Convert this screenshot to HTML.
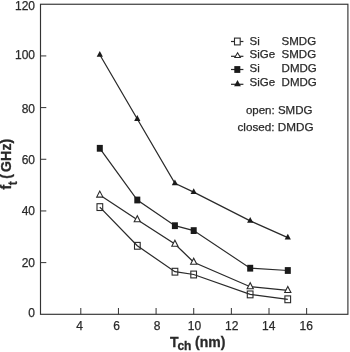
<!DOCTYPE html>
<html><head><meta charset="utf-8"><title>ft vs Tch</title>
<style>
html,body{margin:0;padding:0;background:#fff;}
svg{display:block;font-family:"Liberation Sans",sans-serif;}
</style></head><body>
<svg width="350" height="352" viewBox="0 0 350 352">
<rect width="350" height="352" fill="#fff"/>
<rect x="40.5" y="4.25" width="307.40" height="310.05" fill="none" stroke="#333" stroke-width="1.15"/>
<line x1="80.80" y1="314.3" x2="80.80" y2="308.0" stroke="#333" stroke-width="1"/>
<line x1="118.44" y1="314.3" x2="118.44" y2="308.0" stroke="#333" stroke-width="1"/>
<line x1="156.08" y1="314.3" x2="156.08" y2="308.0" stroke="#333" stroke-width="1"/>
<line x1="193.72" y1="314.3" x2="193.72" y2="308.0" stroke="#333" stroke-width="1"/>
<line x1="231.36" y1="314.3" x2="231.36" y2="308.0" stroke="#333" stroke-width="1"/>
<line x1="269.00" y1="314.3" x2="269.00" y2="308.0" stroke="#333" stroke-width="1"/>
<line x1="306.64" y1="314.3" x2="306.64" y2="308.0" stroke="#333" stroke-width="1"/>
<line x1="40.5" y1="262.62" x2="46.3" y2="262.62" stroke="#333" stroke-width="1"/>
<line x1="40.5" y1="210.95" x2="46.3" y2="210.95" stroke="#333" stroke-width="1"/>
<line x1="40.5" y1="159.28" x2="46.3" y2="159.28" stroke="#333" stroke-width="1"/>
<line x1="40.5" y1="107.60" x2="46.3" y2="107.60" stroke="#333" stroke-width="1"/>
<line x1="40.5" y1="55.93" x2="46.3" y2="55.93" stroke="#333" stroke-width="1"/>
<text x="79.5" y="330" font-size="12" text-anchor="middle" fill="#2a2a2a" stroke="#2a2a2a" stroke-width="0.25">4</text>
<text x="116.6" y="330" font-size="12" text-anchor="middle" fill="#2a2a2a" stroke="#2a2a2a" stroke-width="0.25">6</text>
<text x="157" y="330" font-size="12" text-anchor="middle" fill="#2a2a2a" stroke="#2a2a2a" stroke-width="0.25">8</text>
<text x="194.5" y="330" font-size="12" text-anchor="middle" fill="#2a2a2a" stroke="#2a2a2a" stroke-width="0.25">10</text>
<text x="231.8" y="330" font-size="12" text-anchor="middle" fill="#2a2a2a" stroke="#2a2a2a" stroke-width="0.25">12</text>
<text x="268.8" y="330" font-size="12" text-anchor="middle" fill="#2a2a2a" stroke="#2a2a2a" stroke-width="0.25">14</text>
<text x="306.2" y="330" font-size="12" text-anchor="middle" fill="#2a2a2a" stroke="#2a2a2a" stroke-width="0.25">16</text>
<text x="35" y="9.8" font-size="12" text-anchor="end" fill="#2a2a2a" stroke="#2a2a2a" stroke-width="0.25">120</text>
<text x="35" y="59.1" font-size="12" text-anchor="end" fill="#2a2a2a" stroke="#2a2a2a" stroke-width="0.25">100</text>
<text x="35" y="113.3" font-size="12" text-anchor="end" fill="#2a2a2a" stroke="#2a2a2a" stroke-width="0.25">80</text>
<text x="35" y="163.5" font-size="12" text-anchor="end" fill="#2a2a2a" stroke="#2a2a2a" stroke-width="0.25">60</text>
<text x="35" y="214.5" font-size="12" text-anchor="end" fill="#2a2a2a" stroke="#2a2a2a" stroke-width="0.25">40</text>
<text x="35" y="266.6" font-size="12" text-anchor="end" fill="#2a2a2a" stroke="#2a2a2a" stroke-width="0.25">20</text>
<text x="35" y="317.3" font-size="12" text-anchor="end" fill="#2a2a2a" stroke="#2a2a2a" stroke-width="0.25">0</text>
<text x="170.0" y="346.6" font-size="14" font-weight="bold" fill="#2a2a2a" stroke="#2a2a2a" stroke-width="0.3">T</text>
<text x="177.4" y="350.3" font-size="12" font-weight="bold" fill="#2a2a2a" stroke="#2a2a2a" stroke-width="0.3">ch</text>
<text x="195.0" y="346.6" font-size="14" font-weight="bold" fill="#2a2a2a" stroke="#2a2a2a" stroke-width="0.3">(nm)</text>
<g transform="translate(11.0,189.8) rotate(-90)" font-weight="bold" fill="#2a2a2a" stroke="#2a2a2a" stroke-width="0.3"><text x="0.2" y="0" font-size="14">f</text><text x="4.5" y="5.8" font-size="12">t</text><text x="11.1 17.9 28.7 39.2 46.3" y="0" font-size="14">(GHz)</text></g>
<polyline points="99.8,54.8 137.3,119.0 174.9,183.3 193.7,192.1 250.2,220.9 287.8,237.6" fill="none" stroke="#2a2a2a" stroke-width="1.25"/>
<polygon points="99.8,50.9 96.7,56.7 102.9,56.7" fill="#1a1a1a"/>
<polygon points="137.3,115.1 134.2,120.9 140.4,120.9" fill="#1a1a1a"/>
<polygon points="174.9,179.4 171.8,185.2 178.0,185.2" fill="#1a1a1a"/>
<polygon points="193.7,188.2 190.6,194.0 196.8,194.0" fill="#1a1a1a"/>
<polygon points="250.2,217.0 247.1,222.8 253.3,222.8" fill="#1a1a1a"/>
<polygon points="287.8,233.7 284.7,239.5 290.9,239.5" fill="#1a1a1a"/>
<polyline points="99.8,148.3 137.3,200.0 174.9,225.7 193.7,230.6 250.2,268.2 287.8,270.5" fill="none" stroke="#2a2a2a" stroke-width="1.25"/>
<rect x="96.8" y="144.9" width="6" height="6.8" fill="#1a1a1a"/>
<rect x="134.3" y="196.6" width="6" height="6.8" fill="#1a1a1a"/>
<rect x="171.9" y="222.3" width="6" height="6.8" fill="#1a1a1a"/>
<rect x="190.7" y="227.2" width="6" height="6.8" fill="#1a1a1a"/>
<rect x="247.2" y="264.8" width="6" height="6.8" fill="#1a1a1a"/>
<rect x="284.8" y="267.1" width="6" height="6.8" fill="#1a1a1a"/>
<polyline points="99.8,195.0 137.3,219.7 174.9,244.1 193.7,262.2 250.2,286.7 287.8,290.4" fill="none" stroke="#2a2a2a" stroke-width="1.25"/>
<polygon points="99.8,191.1 96.7,197.1 102.9,197.1" fill="#fff" stroke="#2a2a2a" stroke-width="1.1" stroke-linejoin="miter"/>
<polygon points="137.3,215.8 134.2,221.8 140.4,221.8" fill="#fff" stroke="#2a2a2a" stroke-width="1.1" stroke-linejoin="miter"/>
<polygon points="174.9,240.2 171.8,246.2 178.0,246.2" fill="#fff" stroke="#2a2a2a" stroke-width="1.1" stroke-linejoin="miter"/>
<polygon points="193.7,258.3 190.6,264.3 196.8,264.3" fill="#fff" stroke="#2a2a2a" stroke-width="1.1" stroke-linejoin="miter"/>
<polygon points="250.2,282.8 247.1,288.8 253.3,288.8" fill="#fff" stroke="#2a2a2a" stroke-width="1.1" stroke-linejoin="miter"/>
<polygon points="287.8,286.5 284.7,292.5 290.9,292.5" fill="#fff" stroke="#2a2a2a" stroke-width="1.1" stroke-linejoin="miter"/>
<rect x="97.0" y="203.7" width="5.7" height="6.8" fill="#fff" stroke="#2a2a2a" stroke-width="1.1"/>
<rect x="134.5" y="242.4" width="5.7" height="6.8" fill="#fff" stroke="#2a2a2a" stroke-width="1.1"/>
<rect x="172.1" y="268.3" width="5.7" height="6.8" fill="#fff" stroke="#2a2a2a" stroke-width="1.1"/>
<rect x="190.8" y="271.1" width="5.7" height="6.8" fill="#fff" stroke="#2a2a2a" stroke-width="1.1"/>
<rect x="247.3" y="291.0" width="5.7" height="6.8" fill="#fff" stroke="#2a2a2a" stroke-width="1.1"/>
<rect x="284.9" y="295.9" width="5.7" height="6.8" fill="#fff" stroke="#2a2a2a" stroke-width="1.1"/>
<polyline points="99.8,207.1 137.3,245.8 174.9,271.7 193.7,274.5 250.2,294.4 287.8,299.3" fill="none" stroke="#2a2a2a" stroke-width="1.25"/>
<line x1="231" y1="41.5" x2="243.4" y2="41.5" stroke="#2a2a2a" stroke-width="1.2"/>
<rect x="234.5" y="38.1" width="5.7" height="6.8" fill="#fff" stroke="#2a2a2a" stroke-width="1.1"/>
<text x="249.6" y="44.5" font-size="11.5" fill="#2a2a2a" stroke="#2a2a2a" stroke-width="0.25">Si</text>
<text x="281.6" y="44.5" font-size="11.5" fill="#2a2a2a" stroke="#2a2a2a" stroke-width="0.25">SMDG</text>
<line x1="231" y1="56.3" x2="243.4" y2="56.3" stroke="#2a2a2a" stroke-width="1.2"/>
<polygon points="237.6,52.7 234.8,57.4 240.4,57.4" fill="#fff" stroke="#2a2a2a" stroke-width="1.05"/>
<text x="249.6" y="58.3" font-size="11.5" fill="#2a2a2a" stroke="#2a2a2a" stroke-width="0.25">SiGe</text>
<text x="281.6" y="58.3" font-size="11.5" fill="#2a2a2a" stroke="#2a2a2a" stroke-width="0.25">SMDG</text>
<line x1="231" y1="69.5" x2="243.4" y2="69.5" stroke="#2a2a2a" stroke-width="1.2"/>
<rect x="234.3" y="66.1" width="6" height="6.8" fill="#1a1a1a"/>
<text x="249.6" y="71.8" font-size="11.5" fill="#2a2a2a" stroke="#2a2a2a" stroke-width="0.25">Si</text>
<text x="281.6" y="71.8" font-size="11.5" fill="#2a2a2a" stroke="#2a2a2a" stroke-width="0.25">DMDG</text>
<line x1="231" y1="84.3" x2="243.4" y2="84.3" stroke="#2a2a2a" stroke-width="1.2"/>
<polygon points="237.5,80.1 234.1,86.2 240.9,86.2" fill="#1a1a1a"/>
<text x="249.6" y="85.6" font-size="11.5" fill="#2a2a2a" stroke="#2a2a2a" stroke-width="0.25">SiGe</text>
<text x="281.6" y="85.6" font-size="11.5" fill="#2a2a2a" stroke="#2a2a2a" stroke-width="0.25">DMDG</text>
<text x="312.4" y="113.5" font-size="11.5" text-anchor="end" fill="#2a2a2a" stroke="#2a2a2a" stroke-width="0.25">open: SMDG</text>
<text x="313.5" y="130.6" font-size="11.7" text-anchor="end" fill="#2a2a2a" stroke="#2a2a2a" stroke-width="0.25">closed: DMDG</text>
</svg>
</body></html>
